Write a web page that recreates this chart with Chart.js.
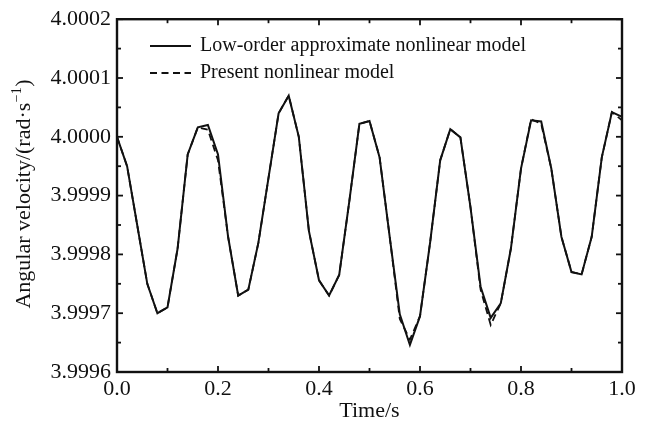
<!DOCTYPE html>
<html><head><meta charset="utf-8">
<script src="https://cdn.jsdelivr.net/npm/chart.js@4/dist/chart.umd.min.js"></script>
<style>html,body{margin:0;padding:0;background:#fff}#wrap{width:646px;height:423px;position:relative}canvas{display:block}</style>
</head><body><div id="wrap"><canvas id="c" width="646" height="423" style="width:646px;height:423px"></canvas></div>
<script>
const time = [0.00,0.02,0.04,0.06,0.08,0.10,0.12,0.14,0.16,0.18,0.20,0.22,0.24,0.26,0.28,0.30,0.32,0.34,0.36,0.38,0.40,0.42,0.44,0.46,0.48,0.50,0.52,0.54,0.56,0.58,0.60,0.62,0.64,0.66,0.68,0.70,0.72,0.74,0.76,0.78,0.80,0.82,0.84,0.86,0.88,0.90,0.92,0.94,0.96,0.98,1.00];
const lowOrder = [4.000000,3.999950,3.999850,3.999750,3.999700,3.999710,3.999810,3.999970,4.000016,4.000020,3.999970,3.999830,3.999730,3.999740,3.999820,3.999930,4.000040,4.000070,4.000000,3.999840,3.999756,3.999730,3.999765,3.999890,4.000022,4.000027,3.999965,3.999830,3.999698,3.999646,3.999695,3.999820,3.999960,4.000013,3.999999,3.999880,3.999745,3.999692,3.999717,3.999810,3.999946,4.000028,4.000026,3.999946,3.999830,3.999770,3.999766,3.999830,3.999965,4.000042,4.000034];
const present = [4.000000,3.999950,3.999850,3.999750,3.999700,3.999710,3.999810,3.999970,4.000016,4.000012,3.999960,3.999830,3.999730,3.999740,3.999820,3.999930,4.000040,4.000070,4.000000,3.999840,3.999756,3.999730,3.999765,3.999890,4.000022,4.000027,3.999965,3.999830,3.999690,3.999655,3.999695,3.999820,3.999960,4.000013,3.999999,3.999880,3.999740,3.999680,3.999717,3.999810,3.999946,4.000030,4.000022,3.999946,3.999830,3.999770,3.999766,3.999830,3.999965,4.000042,4.000028];
const seriesNames = ['Low-order approximate nonlinear model','Present nonlinear model'];
const xTickValues = [0.0,0.2,0.4,0.6,0.8,1.0];
const xTickLabels = ['0.0','0.2','0.4','0.6','0.8','1.0'];
const xMinorValues = [0.1,0.3,0.5,0.7,0.9];
const yTickValues = [3.9996,3.9997,3.9998,3.9999,4.0000,4.0001,4.0002];
const yTickLabels = ['3.9996','3.9997','3.9998','3.9999','4.0000','4.0001','4.0002'];
const yMinorValues = [3.99965,3.99975,3.99985,3.99995,4.00005,4.00015];
const xTitle = 'Time/s';
const yTitleMain = 'Angular velocity/(rad\u00B7s';
const yTitleSup = '\u22121';
const yTitleEnd = ')';

const FONT = '"Liberation Serif","Times New Roman",serif';
const DASH = [7,4.5];

const decor = {
  id:'decor',
  afterDatasetsDraw(chart){
    const ctx = chart.ctx, a = chart.chartArea, xs = chart.scales.x, ys = chart.scales.y;
    ctx.save();
    ctx.strokeStyle = '#111'; ctx.lineWidth = 1.8;
    const tk = (vals, len) => {
      vals.forEach(v => {
        const px = xs.getPixelForValue(v);
        ctx.beginPath(); ctx.moveTo(px, a.bottom); ctx.lineTo(px, a.bottom - len); ctx.stroke();
        ctx.beginPath(); ctx.moveTo(px, a.top); ctx.lineTo(px, a.top + len); ctx.stroke();
      });
    };
    const tky = (vals, len) => {
      vals.forEach(v => {
        const py = ys.getPixelForValue(v);
        ctx.beginPath(); ctx.moveTo(a.left, py); ctx.lineTo(a.left + len, py); ctx.stroke();
        ctx.beginPath(); ctx.moveTo(a.right, py); ctx.lineTo(a.right - len, py); ctx.stroke();
      });
    };
    tk(xTickValues, 6); tk(xMinorValues, 4);
    tky(yTickValues, 6); tky(yMinorValues, 4);
    ctx.lineWidth = 2.4;
    ctx.strokeRect(a.left, a.top, a.right - a.left, a.bottom - a.top);
    ctx.lineWidth = 2;
    ctx.beginPath(); ctx.moveTo(150, 46); ctx.lineTo(191, 46); ctx.stroke();
    ctx.lineWidth = 1.8;
    ctx.setLineDash(DASH);
    ctx.beginPath(); ctx.moveTo(150, 73); ctx.lineTo(191, 73); ctx.stroke();
    ctx.setLineDash([]);
    ctx.fillStyle = '#111';
    ctx.font = '20px ' + FONT;
    ctx.textBaseline = 'middle'; ctx.textAlign = 'left';
    ctx.fillText(seriesNames[0], 200, 46);
    ctx.fillText(seriesNames[1], 200, 73);
    ctx.font = '22px ' + FONT;
    ctx.textAlign = 'center';
    ctx.fillText(xTitle, (a.left + a.right) / 2, 411);
    ctx.save();
    ctx.translate(24, 194);
    ctx.rotate(-Math.PI / 2);
    ctx.textAlign = 'left';
    ctx.font = '22px ' + FONT;
    const w1 = ctx.measureText(yTitleMain).width;
    const w3 = ctx.measureText(yTitleEnd).width;
    ctx.font = '14px ' + FONT;
    const w2 = ctx.measureText(yTitleSup).width;
    const tot = w1 + w2 + w3 + 1;
    let x0 = -tot / 2;
    ctx.font = '22px ' + FONT;
    ctx.fillText(yTitleMain, x0, 0);
    ctx.font = '14px ' + FONT;
    ctx.fillText(yTitleSup, x0 + w1 + 0.5, -7);
    ctx.font = '22px ' + FONT;
    ctx.fillText(yTitleEnd, x0 + w1 + w2 + 1, 0);
    ctx.restore();
    ctx.restore();
  }
};

new Chart(document.getElementById('c'), {
  type: 'line',
  data: {
    datasets: [
      { label: seriesNames[0], data: time.map((t,i)=>({x:t, y:lowOrder[i]})), borderColor:'#111', borderWidth:2, pointRadius:0, tension:0, fill:false },
      { label: seriesNames[1], data: time.map((t,i)=>({x:t, y:present[i]})), borderColor:'#111', borderWidth:1.8, borderDash:DASH, pointRadius:0, tension:0, fill:false }
    ]
  },
  options: {
    responsive:false, maintainAspectRatio:false, animation:false, devicePixelRatio:1,
    layout:{ padding:{ top:16, right:24, left:0, bottom:0 } },
    plugins:{ legend:{display:false}, tooltip:{enabled:false} },
    scales:{
      x:{ type:'linear', min:0, max:1,
        afterBuildTicks: s => { s.ticks = xTickValues.map(v=>({value:v})); },
        afterFit: s => { s.height = 51; },
        grid:{ display:false, drawTicks:false }, border:{ display:false },
        ticks:{ color:'#111', font:{ family:FONT, size:22 }, padding:4, maxRotation:0, autoSkip:false,
          callback:(v,i)=>xTickLabels[i] } },
      y:{ type:'linear', min:3.9996, max:4.0002,
        afterBuildTicks: s => { s.ticks = yTickValues.map(v=>({value:v})); },
        afterFit: s => { s.width = 117; },
        grid:{ display:false, drawTicks:false }, border:{ display:false },
        ticks:{ color:'#111', font:{ family:FONT, size:22 }, padding:6, autoSkip:false,
          callback:(v,i)=>yTickLabels[i] } }
    }
  },
  plugins:[decor]
});
</script></body></html>
